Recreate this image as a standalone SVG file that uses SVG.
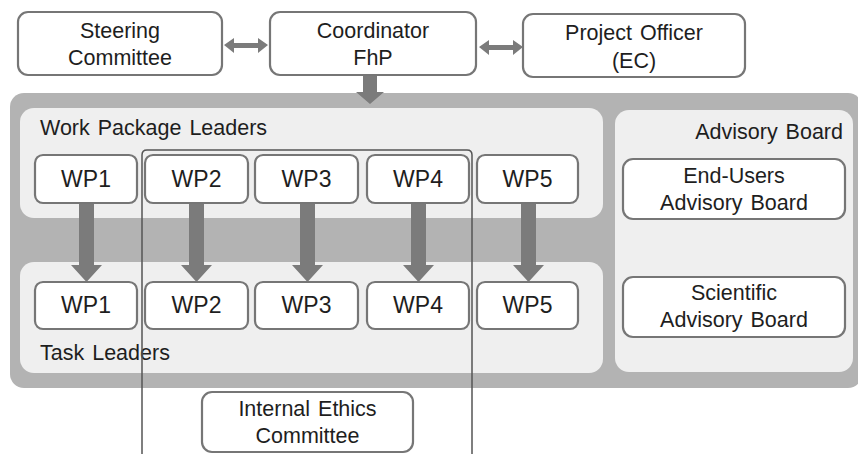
<svg xmlns="http://www.w3.org/2000/svg" width="858" height="454" viewBox="0 0 858 454">
<style>
text{font-family:"Liberation Sans",Arial,sans-serif;font-size:21.5px;fill:#1e1e1e;word-spacing:2px}
.c{text-anchor:middle}
.wp{font-size:23px}
.box{fill:#ffffff;stroke:#767676;stroke-width:2.2}
.panel{fill:#efefef}
.arr{fill:#7b7b7b}
</style>
<rect x="0" y="0" width="858" height="454" fill="#ffffff"/>
<g id="background">
<rect x="10" y="93" width="852" height="295" rx="14" fill="#b3b3b3"/>
<rect id="wpl-panel" class="panel" x="20" y="108" width="583" height="110" rx="14"/>
<rect id="tl-panel" class="panel" x="20" y="262" width="583" height="111" rx="14"/>
<rect id="ab-panel" class="panel" x="615" y="110" width="238" height="262" rx="14"/>
<text x="40" y="135">Work Package  Leaders</text>
<text x="40" y="360">Task Leaders</text>
<text x="843" y="139" text-anchor="end">Advisory Board</text>
</g>
<g id="connectors">
<polygon class="arr" points="224,45 234,38 234,43 258,43 258,38 268,45 258,53 258,48 234,48 234,53"/>
<polygon class="arr" points="479,47 489,40 489,45 513,45 513,40 523,47 513,55 513,50 489,50 489,55"/>
<polygon class="arr" points="363,76 377,76 377,92 384,92 370,104 356,92 363,92"/>
<polygon class="arr" points="79,203 94,203 94,265 102,265 86.5,282 71,265 79,265"/>
<polygon class="arr" points="189,203 204,203 204,265 212,265 196.5,282 181,265 189,265"/>
<polygon class="arr" points="300,203 315,203 315,265 323,265 307.5,282 292,265 300,265"/>
<polygon class="arr" points="411,203 426,203 426,265 434,265 418.5,282 403,265 411,265"/>
<polygon class="arr" points="521,203 536,203 536,265 544,265 528.5,282 513,265 521,265"/>
</g>
<g id="steering"><rect class="box" x="18" y="12" width="204" height="63" rx="10"/><text class="c" x="120" y="38">Steering</text><text class="c" x="120" y="65">Committee</text></g>
<g id="coordinator"><rect class="box" x="270" y="12" width="206" height="63" rx="10"/><text class="c" x="373" y="38">Coordinator</text><text class="c" x="373" y="65">FhP</text></g>
<g id="officer"><rect class="box" x="523" y="14" width="222" height="63" rx="10"/><text class="c" x="634" y="40">Project Officer</text><text class="c" x="634" y="68">(EC)</text></g>
<g id="wpl1"><rect class="box" x="35" y="155" width="102" height="48" rx="8"/><text class="c wp" x="86" y="187">WP1</text></g>
<g id="wpl2"><rect class="box" x="145" y="155" width="103" height="48" rx="8"/><text class="c wp" x="196.5" y="187">WP2</text></g>
<g id="wpl3"><rect class="box" x="255" y="155" width="103" height="48" rx="8"/><text class="c wp" x="306.5" y="187">WP3</text></g>
<g id="wpl4"><rect class="box" x="367" y="155" width="102" height="48" rx="8"/><text class="c wp" x="418" y="187">WP4</text></g>
<g id="wpl5"><rect class="box" x="477" y="155" width="101" height="48" rx="8"/><text class="c wp" x="527.5" y="187">WP5</text></g>
<g id="tl1"><rect class="box" x="35" y="282" width="102" height="47" rx="8"/><text class="c wp" x="86" y="313">WP1</text></g>
<g id="tl2"><rect class="box" x="145" y="282" width="103" height="47" rx="8"/><text class="c wp" x="196.5" y="313">WP2</text></g>
<g id="tl3"><rect class="box" x="255" y="282" width="103" height="47" rx="8"/><text class="c wp" x="306.5" y="313">WP3</text></g>
<g id="tl4"><rect class="box" x="367" y="282" width="102" height="47" rx="8"/><text class="c wp" x="418" y="313">WP4</text></g>
<g id="tl5"><rect class="box" x="477" y="282" width="101" height="47" rx="8"/><text class="c wp" x="527.5" y="313">WP5</text></g>
<g id="endusers"><rect class="box" x="623" y="159" width="222" height="60" rx="10"/><text class="c" x="734" y="183">End-Users</text><text class="c" x="734" y="210">Advisory Board</text></g>
<g id="scientific"><rect class="box" x="623" y="277" width="222" height="60" rx="10"/><text class="c" x="734" y="300">Scientific</text><text class="c" x="734" y="327">Advisory Board</text></g>
<g id="ethics-frame"><path d="M142,454 V155 Q142,150 147,150 H467 Q472,150 472,155 V454" fill="none" stroke="#555555" stroke-width="1.5"/></g>
<g id="ethics"><rect class="box" x="202" y="392" width="211" height="60" rx="10"/><text class="c" x="307.5" y="416">Internal Ethics</text><text class="c" x="307.5" y="443">Committee</text></g>
</svg>
